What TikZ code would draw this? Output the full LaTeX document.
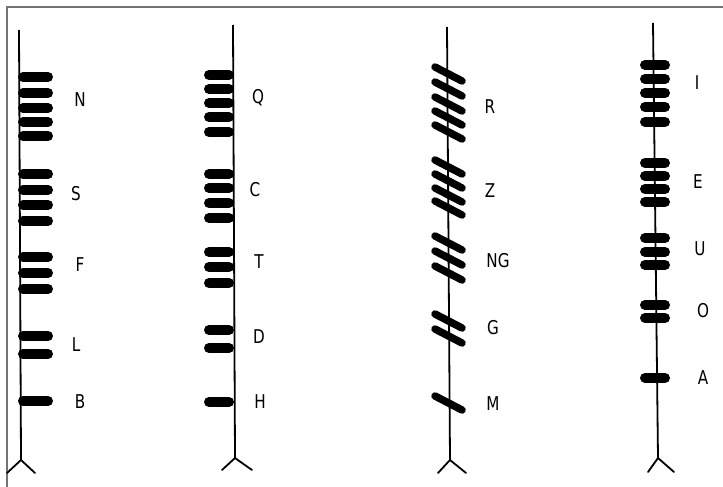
\documentclass[tikz,border=0pt]{standalone}
\usepackage{fontspec}
\newfontfamily\lblfont[FakeStretch=0.8]{DejaVu Sans}
\begin{document}
\begin{tikzpicture}[x=1pt,y=-1pt,
  stem/.style={line width=1.8pt,black},
  hstroke/.style={line width=10pt,line cap=round,black},
  vstroke/.style={line width=10pt,line cap=round,black},
  sstroke/.style={line width=7.5pt,line cap=round,black},
  lbl/.style={font=\lblfont\fontsize{19}{19}\selectfont,inner sep=0pt},
  frame/.style={line width=1.4pt,draw=black!55}]
\useasboundingbox (0,0) rectangle (723,487);
\fill[white] (0,0) rectangle (723,487);
% frame
\coordinate (fa) at (7,487);
\coordinate (fb) at (7,7);
\coordinate (fc) at (723,7);
\draw[frame] (fa) -- (fb) -- (fc);

% ---- column 1 (B group) ----
\coordinate (s1t) at (19,30);
\coordinate (s1b) at (21,460);
\coordinate (s1l) at (7,473);
\coordinate (s1r) at (35,473);
\draw[stem] (s1t) -- (s1b);
\draw[stem,line cap=round] (s1l) -- (s1b) -- (s1r);
\foreach \y in {77,93,108,122,136, 174,190,205,221, 257,273,289, 336,354, 401}
  \draw[hstroke] (23,\y) -- (48,\y);
\node[lbl] (lN) at (80,100) {N};
\node[lbl] (lS) at (76,194) {S};
\node[lbl] (lF) at (80,265) {F};
\node[lbl] (lL) at (76,345) {L};
\node[lbl] (lB) at (80,402) {B};

% ---- column 2 (H group) ----
\coordinate (s2t) at (233,25);
\coordinate (s2b) at (235,458);
\coordinate (s2l) at (222,470);
\coordinate (s2r) at (252,470);
\draw[stem] (s2t) -- (s2b);
\draw[stem,line cap=round] (s2l) -- (s2b) -- (s2r);
\foreach \y in {75,89,103,117,132, 174,188,203,218, 252,267,283, 330,348, 402}
  \draw[hstroke] (209,\y) -- (229,\y);
\node[lbl] (lQ) at (258,98) {Q};
\node[lbl] (lC) at (255,190) {C};
\node[lbl] (lT) at (259,262) {T};
\node[lbl] (lD) at (259,337) {D};
\node[lbl] (lH) at (260,402) {H};

% ---- column 3 (M group) ----
\coordinate (s3t) at (447,27);
\coordinate (s3b) at (450,460);
\coordinate (s3l) at (438,473);
\coordinate (s3r) at (466,473);
\draw[stem] (s3t) -- (s3b);
\draw[stem,line cap=round] (s3l) -- (s3b) -- (s3r);
\foreach \y in {74,89,104,118,132, 167,181,195,208, 243,258,273, 321,336, 403}
  \draw[sstroke] (435,\y-7) -- (462,\y+7);
\node[lbl] (lR) at (490,107) {R};
\node[lbl] (lZ) at (490,191) {Z};
\node[lbl] (lNG) at (498,261) {NG};
\node[lbl] (lG) at (493,328) {G};
\node[lbl] (lM) at (493,404) {M};

% ---- column 4 (A group) ----
\coordinate (s4t) at (653,23);
\coordinate (s4b) at (658,458);
\coordinate (s4l) at (648,472);
\coordinate (s4r) at (674,472);
\draw[stem] (s4t) -- (s4b);
\draw[stem,line cap=round] (s4l) -- (s4b) -- (s4r);
\foreach \y in {65,79,93,107,122, 163,176,189,202, 238,252,265, 305,318, 378}
  \draw[vstroke] (645,\y) -- (665,\y);
\node[lbl] (lI) at (697,83) {I};
\node[lbl] (lE) at (698,182) {E};
\node[lbl] (lU) at (700,249) {U};
\node[lbl] (lO) at (703,311) {O};
\node[lbl] (lA) at (703,378) {A};
\end{tikzpicture}
\end{document}
